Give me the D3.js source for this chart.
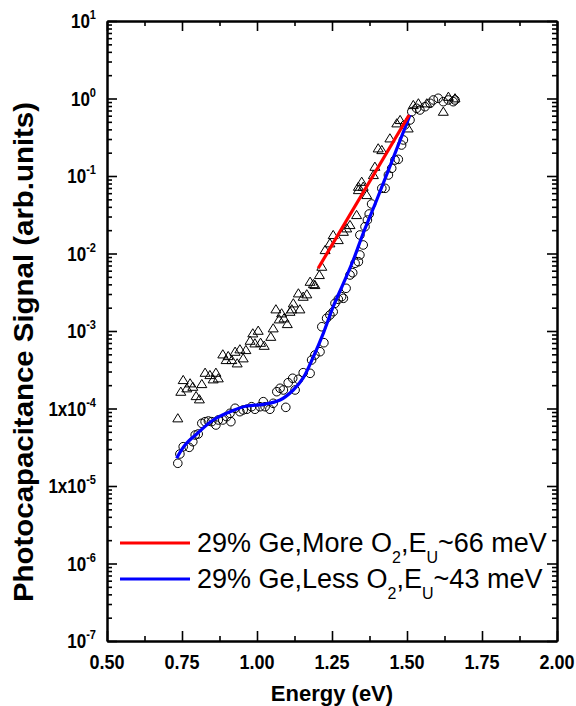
<!DOCTYPE html>
<html><head><meta charset="utf-8">
<script src="https://cdn.jsdelivr.net/npm/d3@7"></script>
<style>
body{margin:0;background:#fff;}
svg{display:block;font-family:"Liberation Sans",Arial,sans-serif;}
</style></head>
<body><svg id="c" width="576" height="706"></svg>
<script>
// ---- data ----
const xTickValues=[0.5,0.75,1.0,1.25,1.5,1.75,2.0];
const xTickLabels=["0.50","0.75","1.00","1.25","1.50","1.75","2.00"];
const xMinorValues=[0.625,0.875,1.125,1.375,1.625,1.875];
const yTickValues=[10,1,0.1,0.01,1e-3,1e-4,1e-5,1e-6,1e-7];
const yTickBase=["10","10","10","10","10","1x10","1x10","10","10"];
const yTickExp=["1","0","-1","-2","-3","-4","-5","-6","-7"];

// 29% Ge, More O2 (triangles): energy (eV), log10(signal)
const triE=[0.736,0.746,0.754,0.766,0.777,0.786,0.797,0.808,0.816,0.827,0.843,0.854,0.863,0.871,0.886,0.897,0.904,0.916,0.927,0.934,0.943,0.954,0.963,0.977,0.986,0.993,1.004,1.012,1.024,1.046,1.054,1.063,1.074,1.082,1.090,1.101,1.110,1.116,1.121,1.143,1.138,1.154,1.166,1.177,1.188,1.193,1.208,1.216,1.227,1.243,1.254,1.271,1.288,1.299,1.310,1.332,1.338,1.338,1.354,1.366,1.349,1.388,1.393,1.404,1.416,1.443,1.466,1.477,1.504,1.521,1.538,1.566,1.621,1.638,1.660];
const triLog=[-4.126,-3.783,-3.632,-3.739,-3.675,-3.719,-3.839,-3.881,-3.684,-3.538,-3.568,-3.623,-3.538,-3.610,-3.301,-3.374,-3.323,-3.374,-3.267,-3.417,-3.236,-3.352,-3.245,-3.125,-3.030,-3.159,-2.996,-3.151,-3.190,-3.074,-2.965,-2.720,-2.849,-2.772,-2.836,-2.910,-2.751,-2.720,-2.643,-2.720,-2.514,-2.557,-2.526,-2.364,-2.394,-2.406,-2.277,-2.170,-1.955,-1.868,-1.761,-1.826,-1.719,-1.675,-1.632,-1.503,-1.138,-1.181,-1.138,-1.245,-1.074,-0.987,-0.880,-0.643,-0.665,-0.514,-0.320,-0.277,-0.385,-0.084,-0.062,-0.062,-0.170,0.023,0.003];

// 29% Ge, Less O2 (circles)
const cirE=[0.736,0.743,0.754,0.774,0.786,0.794,0.804,0.816,0.827,0.838,0.849,0.863,0.871,0.886,0.899,0.910,0.913,0.927,0.943,0.954,0.966,0.982,0.993,1.010,1.021,1.027,1.043,1.054,1.066,1.077,1.088,1.096,1.104,1.119,1.127,1.138,1.154,1.177,1.182,1.193,1.210,1.223,1.216,1.232,1.243,1.254,1.260,1.271,1.282,1.288,1.297,1.310,1.319,1.327,1.338,1.343,1.354,1.343,1.360,1.368,1.374,1.382,1.416,1.427,1.438,1.449,1.460,1.471,1.482,1.488,1.493,1.510,1.516,1.532,1.543,1.560,1.577,1.588,1.604,1.621,1.638,1.654,1.660];
const cirLog=[-4.707,-4.587,-4.493,-4.501,-4.428,-4.342,-4.329,-4.191,-4.170,-4.161,-4.170,-4.213,-4.148,-4.148,-4.106,-4.062,-4.170,-3.997,-4.041,-4.019,-4.010,-3.977,-4.010,-3.977,-3.912,-3.977,-4.010,-3.933,-3.783,-3.739,-3.761,-3.985,-3.667,-3.610,-3.761,-3.623,-3.538,-3.546,-3.374,-3.310,-3.267,-3.151,-2.945,-2.836,-2.794,-2.751,-2.643,-2.591,-2.557,-2.578,-2.449,-2.277,-2.248,-2.126,-2.106,-2.019,-1.890,-1.761,-1.654,-1.568,-1.490,-1.361,-1.159,-1.159,-0.987,-0.901,-0.794,-0.785,-0.600,-0.535,-0.342,-0.277,-0.170,-0.126,-0.148,-0.106,-0.062,-0.019,0.003,-0.041,-0.019,-0.041,-0.019];

// Urbach fit (red, More O2) endpoints
const redE=[1.204,1.507];
const redLog=[-2.19,-0.213];
// Fit curve (blue, Less O2)
const blueE=[0.732,0.760,0.799,0.854,0.910,0.966,1.021,1.077,1.121,1.154,1.188,1.221,1.254,1.288,1.321,1.354,1.399,1.510];
const blueLog=[-4.643,-4.471,-4.329,-4.148,-4.041,-3.968,-3.946,-3.890,-3.761,-3.606,-3.332,-3.030,-2.686,-2.385,-2.084,-1.739,-1.310,-0.213];

const legendItems=[
  {color:"#ff0000",pre:"29% Ge,More O",mid:",E",post:"~66 meV"},
  {color:"#0000ff",pre:"29% Ge,Less O",mid:",E",post:"~43 meV"}
];

// ---- chart ----
const svg=d3.select("#c");
const L=107,R=557,T=21,B=641;
const x=d3.scaleLinear().domain([0.5,2.0]).range([L,R]);
const y=d3.scaleLog().domain([1e-7,10]).range([B,T]);

const yMinor=[];
for(let e=-7;e<1;e++){for(let k=2;k<=9;k++)yMinor.push(k*Math.pow(10,e));}

function styleAxis(g){
  g.selectAll("path.domain").attr("stroke","#000").attr("stroke-width",2);
  g.selectAll(".tick line").attr("stroke","#000").attr("stroke-width",1.6);
  g.selectAll(".tick text").remove();
}
// major ticks (inward) on all sides
svg.append("g").attr("transform",`translate(0,${B})`)
  .call(d3.axisBottom(x).tickValues(xTickValues).tickSize(-10).tickSizeOuter(0).tickFormat("")).call(styleAxis);
svg.append("g").attr("transform",`translate(0,${T})`)
  .call(d3.axisTop(x).tickValues(xTickValues).tickSize(-10).tickSizeOuter(0).tickFormat("")).call(styleAxis);
svg.append("g").attr("transform",`translate(${L},0)`)
  .call(d3.axisLeft(y).tickValues(yTickValues).tickSize(-10).tickSizeOuter(0).tickFormat("")).call(styleAxis);
svg.append("g").attr("transform",`translate(${R},0)`)
  .call(d3.axisRight(y).tickValues(yTickValues).tickSize(-10).tickSizeOuter(0).tickFormat("")).call(styleAxis);
// minor ticks
svg.append("g").attr("transform",`translate(0,${B})`)
  .call(d3.axisBottom(x).tickValues(xMinorValues).tickSize(-5).tickSizeOuter(0).tickFormat("")).call(styleAxis);
svg.append("g").attr("transform",`translate(0,${T})`)
  .call(d3.axisTop(x).tickValues(xMinorValues).tickSize(-5).tickSizeOuter(0).tickFormat("")).call(styleAxis);
svg.append("g").attr("transform",`translate(${L},0)`)
  .call(d3.axisLeft(y).tickValues(yMinor).tickSize(-5).tickSizeOuter(0).tickFormat("")).call(styleAxis);
svg.append("g").attr("transform",`translate(${R},0)`)
  .call(d3.axisRight(y).tickValues(yMinor).tickSize(-5).tickSizeOuter(0).tickFormat("")).call(styleAxis);

// x tick labels
xTickValues.forEach((v,i)=>{
  svg.append("g").attr("transform",`translate(${x(v)},${B+28}) scale(0.9,1)`)
    .append("text").attr("text-anchor","middle").attr("font-size",20).attr("font-weight","bold")
    .text(xTickLabels[i]);
});
// y tick labels
yTickValues.forEach((v,i)=>{
  const t=svg.append("g").attr("transform",`translate(${L-11},${y(v)+7}) scale(0.85,1)`)
    .append("text").attr("text-anchor","end").attr("font-size",20).attr("font-weight","bold");
  t.append("tspan").text(yTickBase[i]);
  t.append("tspan").attr("font-size",13).attr("dy",-9).text(yTickExp[i]);
});

// axis titles
svg.append("text").attr("x",(L+R)/2).attr("y",701).attr("text-anchor","middle")
  .attr("font-size",22).attr("font-weight","bold").text("Energy (eV)");
svg.append("text").attr("transform","translate(33,352) rotate(-90)").attr("text-anchor","middle")
  .attr("font-size",27).attr("font-weight","bold")
  .attr("textLength",500).attr("lengthAdjust","spacingAndGlyphs")
  .text("Photocapacitance Signal (arb.units)");

// markers
const tri=d3.range(triE.length).map(i=>({e:triE[i],v:Math.pow(10,triLog[i])}));
const cir=d3.range(cirE.length).map(i=>({e:cirE[i],v:Math.pow(10,cirLog[i])}));
svg.append("g").selectAll("circle").data(cir).join("circle")
  .attr("cx",d=>x(d.e)).attr("cy",d=>y(d.v)).attr("r",4.3)
  .attr("fill","none").attr("stroke","#000").attr("stroke-width",1);
svg.append("g").selectAll("path").data(tri).join("path")
  .attr("transform",d=>`translate(${x(d.e)},${y(d.v)})`)
  .attr("d","M0,-4.6L5,3.6L-5,3.6Z")
  .attr("fill","none").attr("stroke","#000").attr("stroke-width",1);

// fit lines
const line=d3.line().x(d=>x(d[0])).y(d=>y(Math.pow(10,d[1])));
svg.append("path").datum(blueE.map((e,i)=>[e,blueLog[i]]))
  .attr("d",line.curve(d3.curveCatmullRom.alpha(0.5)))
  .attr("fill","none").attr("stroke","#0000ff").attr("stroke-width",3.2);
svg.append("path").datum(redE.map((e,i)=>[e,redLog[i]]))
  .attr("d",d3.line().x(d=>x(d[0])).y(d=>y(Math.pow(10,d[1])))(redE.map((e,i)=>[e,redLog[i]])))
  .attr("fill","none").attr("stroke","#ff0000").attr("stroke-width",3.2);

// legend
const legY=[543,579];
legendItems.forEach((it,i)=>{
  svg.append("line").attr("x1",120).attr("x2",190).attr("y1",legY[i]).attr("y2",legY[i])
    .attr("stroke",it.color).attr("stroke-width",3);
  const t=svg.append("text").attr("x",197).attr("y",legY[i]+9).attr("font-size",27);
  t.append("tspan").text(it.pre);
  t.append("tspan").attr("font-size",16).attr("dy",11).text("2");
  t.append("tspan").attr("dy",-11).text(it.mid);
  t.append("tspan").attr("font-size",16).attr("dy",11).text("U");
  t.append("tspan").attr("dy",-11).text(it.post);
});
</script></body></html>
